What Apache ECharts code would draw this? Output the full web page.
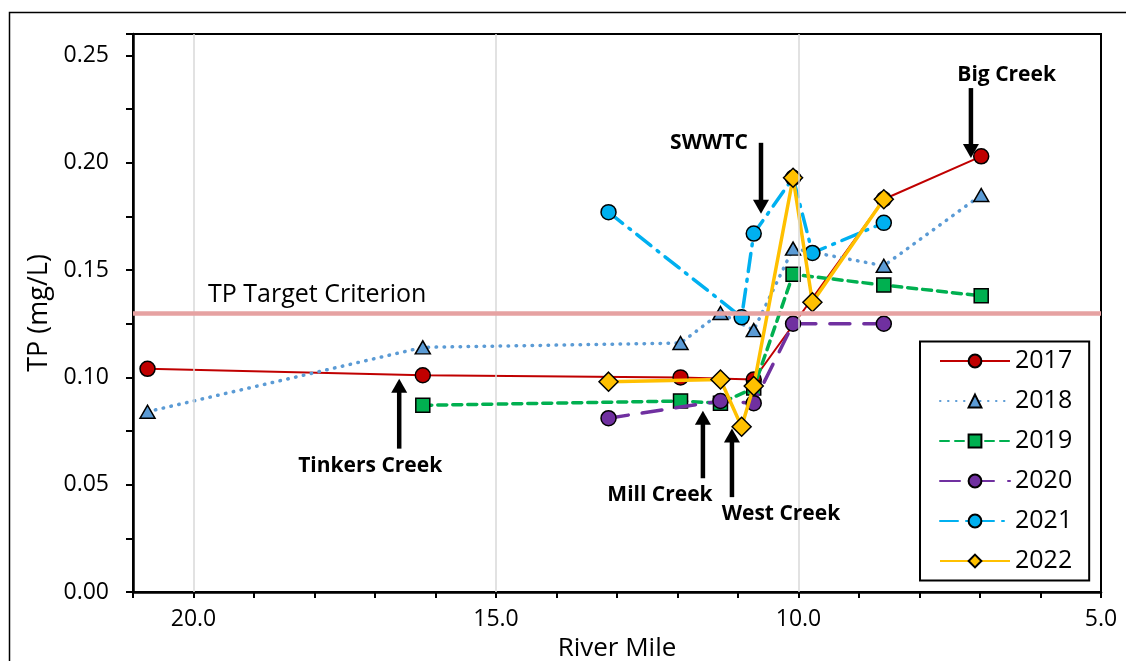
<!DOCTYPE html>
<html>
<head>
<meta charset="utf-8">
<script src="https://cdn.jsdelivr.net/npm/echarts@6/dist/echarts.min.js"></script>
<style>html,body{margin:0;padding:0;background:#fff;}#c{width:1126px;height:661px;}</style>
</head>
<body>
<div id="c"></div>
<script>
// ---- data ----
const YEARS = ['2017', '2018', '2019', '2020', '2021', '2022'];
const RM_2017 = [20.76, 16.21, 11.95, 10.74, 8.59, 6.98];
const TP_2017 = [0.104, 0.101, 0.100, 0.099, 0.183, 0.203];
const RM_2018 = [20.76, 16.21, 11.95, 11.29, 10.74, 10.09, 8.59, 6.98];
const TP_2018 = [0.084, 0.114, 0.116, 0.130, 0.122, 0.160, 0.152, 0.185];
const RM_2019 = [16.21, 11.95, 11.29, 10.74, 10.09, 8.59, 6.98];
const TP_2019 = [0.087, 0.089, 0.088, 0.095, 0.148, 0.143, 0.138];
const RM_2020 = [13.14, 11.29, 10.74, 10.09, 8.59];
const TP_2020 = [0.081, 0.089, 0.088, 0.125, 0.125];
const RM_2021 = [13.14, 10.94, 10.74, 10.09, 9.77, 8.59];
const TP_2021 = [0.177, 0.128, 0.167, 0.193, 0.158, 0.172];
const RM_2022 = [13.14, 11.29, 10.94, 10.74, 10.09, 9.77, 8.59];
const TP_2022 = [0.098, 0.099, 0.077, 0.096, 0.193, 0.135, 0.183];
const TARGET_TP = [0.13];
const TARGET_LABEL = ['TP Target Criterion'];
const X_GRID_TICKS = [20, 15, 10];
const ANNOT_LABELS = ['Tinkers Creek', 'Mill Creek', 'West Creek', 'SWWTC', 'Big Creek'];

// ---- layout / style (annotation placement in data units) ----
const ANNOT_LAYOUT = [
  { arrowX: 16.60, tail: 0.0668, tip: 0.0994, textX: 17.08, textY: 0.0589 },
  { arrowX: 11.58, tail: 0.0530, tip: 0.0845, textX: 12.29, textY: 0.0450 },
  { arrowX: 11.10, tail: 0.0442, tip: 0.0762, textX: 10.29, textY: 0.0365 },
  { arrowX: 10.62, tail: 0.2093, tip: 0.1762, textX: 11.48, textY: 0.2093 },
  { arrowX: 7.15,  tail: 0.2348, tip: 0.2022, textX: 6.56,  textY: 0.2408 }
];
const TARGET_LABEL_POS = { x: 19.76, y: 0.1384 };

const FONT = 'Open Sans';
const STYLES = [
  { color: '#C00000', line: { width: 2, type: 'solid' }, symbol: 'circle', size: 15 },
  { color: '#5B9BD5', line: { width: 3.5, type: [0.5, 7.5], cap: 'round' }, symbol: 'triangle', size: [15, 13] },
  { color: '#00B050', line: { width: 3.5, type: [9, 6], cap: 'round' }, symbol: 'rect', size: 14 },
  { color: '#7030A0', line: { width: 3.5, type: [20, 14], cap: 'round' }, symbol: 'circle', size: 15 },
  { color: '#00B0F0', line: { width: 3.5, type: [18, 8, 2, 8], cap: 'round' }, symbol: 'circle', size: 15 },
  { color: '#FFC000', line: { width: 3.5, type: 'solid' }, symbol: 'diamond', size: 19 }
];
const RMS = [RM_2017, RM_2018, RM_2019, RM_2020, RM_2021, RM_2022];
const TPS = [TP_2017, TP_2018, TP_2019, TP_2020, TP_2021, TP_2022];

const chart = echarts.init(document.getElementById('c'), null, { renderer: 'canvas' });

const series = [{
  type: 'line', name: '_helper', data: [], silent: true,
  markLine: {
    silent: true, symbol: 'none', animation: false,
    label: { show: false },
    data: X_GRID_TICKS.map(v => ({ xAxis: v, lineStyle: { color: '#D9D9D9', width: 1.5, type: 'solid' } }))
      .concat(TARGET_TP.map(v => ({ yAxis: v, lineStyle: { color: '#E6A2A2', width: 4.5, type: 'solid' } })))
  }
}];
YEARS.forEach((y, i) => {
  const s = STYLES[i];
  series.push({
    type: 'line', name: y,
    data: RMS[i].map((x, k) => [x, TPS[i][k]]),
    symbol: s.symbol, symbolSize: s.size,
    lineStyle: Object.assign({ color: s.color }, s.line),
    itemStyle: { color: s.color, borderColor: '#000', borderWidth: 1.5 },
    z: 2 + i * 0.01
  });
});

const option = {
  animation: false,
  backgroundColor: '#fff',
  grid: { left: 133, top: 34, right: 25, bottom: 69, outerBoundsMode: 'none', containLabel: false, show: true, borderColor: '#000', borderWidth: 2, backgroundColor: 'transparent' },
  xAxis: {
    type: 'value', inverse: true, min: 5, max: 21, interval: 1,
    axisLine: { onZero: false, lineStyle: { color: '#000', width: 2.5 } },
    axisTick: { inside: false, length: 6, lineStyle: { color: '#000', width: 2 } },
    axisLabel: {
      margin: 16, color: '#000', fontSize: 23, fontFamily: FONT,
      formatter: v => (Math.round(v) % 5 === 0 ? Number(v).toFixed(1) : '')
    },
    splitLine: { show: false },
    name: 'River Mile', nameLocation: 'middle', nameGap: 40,
    nameTextStyle: { color: '#000', fontSize: 26, fontFamily: FONT }
  },
  yAxis: {
    type: 'value', min: 0, max: 0.26, interval: 0.025,
    axisLine: { show: true, onZero: false, lineStyle: { color: '#000', width: 2.5 } },
    axisTick: { show: true, inside: false, length: 7, lineStyle: { color: '#000', width: 2 } },
    axisLabel: {
      margin: 24, color: '#000', fontSize: 23, fontFamily: FONT,
      formatter: v => (Math.round(v * 1000) % 50 === 0 ? Number(v).toFixed(2) : '')
    },
    splitLine: { show: false },
    name: 'TP (mg/L)', nameLocation: 'middle', nameGap: 80,
    nameTextStyle: { color: '#000', fontSize: 27, fontFamily: FONT }
  },
  legend: {
    data: YEARS, orient: 'vertical', left: 920, top: 341.5,
    padding: [7, 17, 7, 19],
    itemWidth: 70, itemHeight: 16, itemGap: 15,
    backgroundColor: '#fff', borderColor: '#000', borderWidth: 2, borderRadius: 0,
    textStyle: { color: '#000', fontSize: 25, lineHeight: 25, fontFamily: FONT }
  },
  series: series
};
chart.setOption(option);

// annotations placed from data coordinates
const px = (x, y) => chart.convertToPixel({ xAxisIndex: 0, yAxisIndex: 0 }, [x, y]);
const graphics = [{
  type: 'rect', shape: { x: 9.5, y: 12.5, width: 1300, height: 800 },
  style: { fill: 'none', stroke: '#000', lineWidth: 1.5 }, silent: true
}];
ANNOT_LAYOUT.forEach((a, i) => {
  const tail = px(a.arrowX, a.tail), tip = px(a.arrowX, a.tip);
  const dir = tip[1] > tail[1] ? 1 : -1;
  const headLen = 14, half = 8;
  const baseY = tip[1] - dir * headLen;
  graphics.push({ type: 'line', shape: { x1: tail[0], y1: tail[1], x2: tip[0], y2: baseY + dir * 1 }, style: { stroke: '#000', lineWidth: 4.5 }, silent: true, z: 50 });
  graphics.push({ type: 'polygon', shape: { points: [[tip[0], tip[1]], [tip[0] - half, baseY], [tip[0] + half, baseY]] }, style: { fill: '#000' }, silent: true, z: 50 });
  const t = px(a.textX, a.textY);
  graphics.push({ type: 'text', x: t[0], y: t[1], style: { text: ANNOT_LABELS[i], align: 'center', verticalAlign: 'middle', fontSize: 21, fontWeight: 'bold', fontFamily: FONT, fill: '#000' }, silent: true, z: 50 });
});
const tl = px(TARGET_LABEL_POS.x, TARGET_LABEL_POS.y);
graphics.push({ type: 'text', x: tl[0], y: tl[1], style: { text: TARGET_LABEL[0], align: 'left', verticalAlign: 'middle', fontSize: 25, fontFamily: FONT, fill: '#000' }, silent: true, z: 50 });
chart.setOption({ graphic: graphics });
</script>
</body>
</html>
